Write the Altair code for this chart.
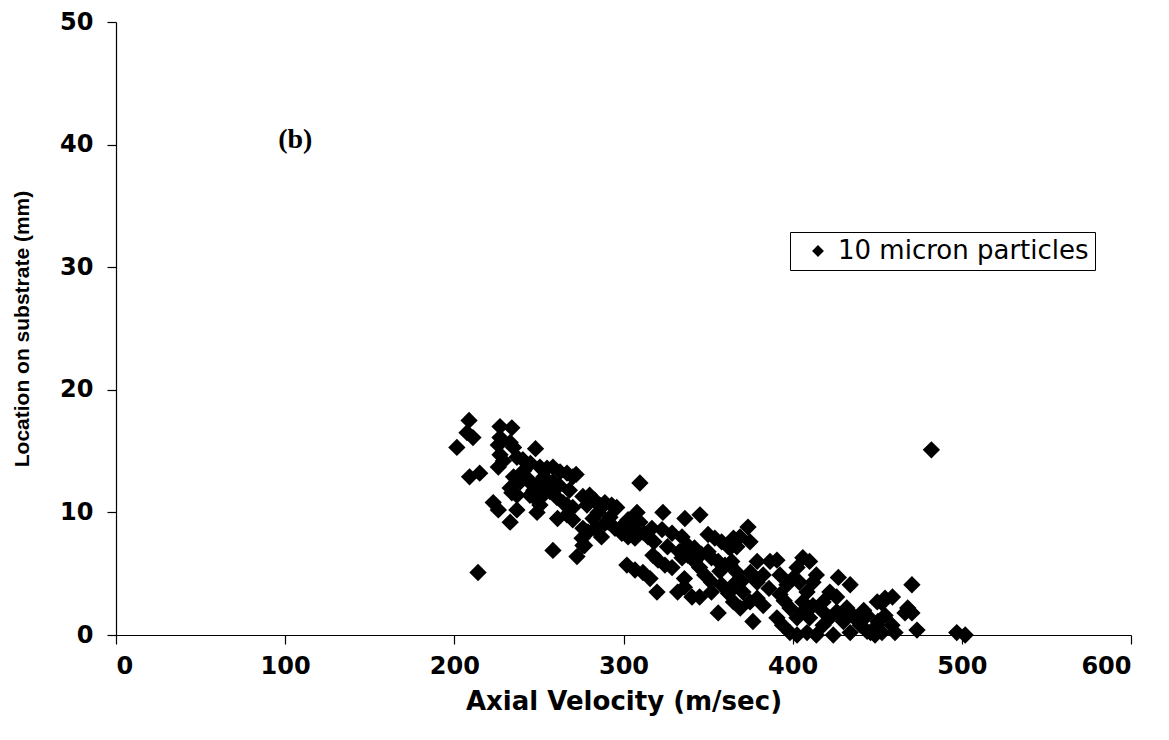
import altair as alt
import pandas as pd

velocity = [
    208.7, 207.5, 211, 201.5, 227, 234, 227, 226, 233, 235, 248, 227, 229, 226, 237, 240.5, 245,
    250.6, 254.8, 258.3, 262.5, 266.6, 270, 272, 209, 215, 235, 239, 233, 243, 246.5, 250.6, 254.8,
    258.3, 260.7, 256.5, 252.4, 234, 237, 244.7, 248.9, 250.6, 248.9, 260.7, 264.2, 266.6, 270,
    276, 278.4, 261, 266.6, 270, 276, 275.5, 276, 223, 226, 237, 233, 258.3, 272.5, 214,
    309.7, 280, 283, 286, 289, 293, 296, 285, 287, 279, 277, 283, 289, 287, 291, 295, 299, 302.7,
    306.8, 302.7, 308, 309.7, 306.8, 311.5, 314.5, 316.8, 322.8, 328.7, 334.6, 323.3, 336.3, 345.2,
    317.4, 320.4, 324.5, 328.7, 302, 306.8, 311.5, 315.7, 319.8, 332, 336, 340.5, 345, 336, 338,
    342, 338, 334.6, 342, 345, 350, 354, 358, 362, 350, 352, 356, 360, 364, 348, 352, 352, 358,
    362, 365, 356, 365,
    373.6, 368.9, 374.8, 367, 363, 363, 367, 365, 379, 375, 379, 382.6, 386.6, 390.7, 370.6, 374.8,
    379, 382.6, 369, 376.5, 392.5, 396.6, 392.5, 400, 402.6, 406, 410, 404, 408.5, 412, 414, 406,
    390.7, 394, 398.4, 402.6, 402.6, 398.4, 406, 410, 412, 418, 422, 426, 408.5, 414, 418, 422,
    424, 426, 430, 427, 434, 432, 435.7, 434, 440, 444, 446, 450, 450, 442, 444,
    482, 470.5, 454.6, 459, 452.8, 468, 466.4, 470.5, 454.6, 450.4, 452.8, 458.7, 460.5, 448.7,
    473.5, 497, 502,
    241, 247, 253, 262, 268, 282, 292, 300, 318, 326, 333, 346, 357, 370, 386, 395, 418, 438,
]
location = [
    17.5, 16.5, 16.1, 15.3, 17.0, 16.9, 16.1, 15.5, 15.7, 15.3, 15.2, 14.7, 14.2, 13.7, 14.5, 14.3, 14.0,
    13.7, 13.6, 13.7, 13.3, 13.2, 12.9, 13.1, 12.9, 13.2, 12.9, 12.5, 12.0, 12.8, 12.2, 12.5, 12.4,
    12.5, 12.1, 11.7, 11.4, 11.6, 11.4, 11.4, 11.0, 10.6, 10.0, 11.2, 10.8, 10.6, 10.4,
    11.3, 10.6, 9.5, 9.8, 9.4, 8.7, 7.9, 7.3, 10.8, 10.2, 10.2, 9.2, 6.9, 6.4, 5.1,
    12.4, 11.4, 11.0, 10.6, 10.8, 10.6, 10.4, 10.0, 10.4, 8.4, 7.3, 8.7, 9.1, 8.0, 9.2, 8.7, 8.3, 8.0,
    7.9, 9.4, 10.0, 9.2, 8.7, 8.4, 8.0, 8.7, 8.6, 8.3, 8.0, 10.0, 9.5, 9.8,
    6.5, 6.1, 5.7, 5.5, 5.7, 5.3, 5.1, 4.6, 3.5, 3.5, 3.9, 3.1, 3.1, 4.6, 7.3,
    7.1, 6.5, 6.3, 6.0, 5.5, 8.2, 7.9, 7.6, 7.2, 6.8, 6.3, 6.0, 5.7, 6.0, 4.9, 4.3, 3.5, 4.1,
    3.4, 2.7, 1.8, 7.9,
    8.8, 8.0, 7.6, 7.2, 7.1, 5.7, 5.1, 4.1, 6.0, 5.1, 4.3, 4.9, 6.0, 6.1, 3.5, 2.7,
    3.0, 2.4, 2.2, 1.1, 4.9, 4.1, 3.3, 4.6, 5.5, 6.3, 6.0, 4.3, 3.5, 4.3, 4.9, 2.7,
    1.4, 0.8, 0.2, 1.4, 0.0, 2.2, 1.9, 1.4, 2.4, 2.7, 3.5, 3.1, 0.2, 0.0, 0.8, 1.4,
    0.0, 1.9, 1.1, 4.7, 4.1, 2.2, 1.6, 0.2, 0.8, 1.6, 0.2, 0.8, 2.7, 2.0, 0.3,
    15.1, 4.1, 3.0, 3.1, 2.6, 2.2, 1.8, 1.8, 1.6, 1.1, 0.2, 0.8, 0.2, 0.0,
    0.4, 0.2, 0.0,
    13.4, 11.8, 12.9, 12.2, 11.8, 9.5, 9.6, 9.0, 7.6, 7.2, 6.8, 6.6, 5.2, 4.4, 3.8, 2.8, 1.9, 1.2,
]
series_name = "10 micron particles"

note_text = ["(b)"]
note_x = [106]
note_y = [40.4]

x_ticks = [0, 100, 200, 300, 400, 500, 600]
y_ticks = [0, 10, 20, 30, 40, 50]

df = pd.DataFrame({"velocity": velocity, "location": location, "series": series_name})
notes = pd.DataFrame({"velocity": note_x, "location": note_y, "label": note_text})

x_title = "Axial Velocity (m/sec)"
y_title = "Location on substrate (mm)"

points = alt.Chart(df).mark_point(
    shape="diamond", filled=True, size=300, opacity=1, strokeWidth=0
).encode(
    x=alt.X("velocity:Q", title=x_title,
            scale=alt.Scale(domain=[0, 600], nice=False, zero=True),
            axis=alt.Axis(values=x_ticks)),
    y=alt.Y("location:Q", title=y_title,
            scale=alt.Scale(domain=[0, 50], nice=False, zero=True),
            axis=alt.Axis(values=y_ticks)),
    color=alt.Color(
        "series:N",
        scale=alt.Scale(range=["black"]),
        legend=alt.Legend(
            title=None, orient="none", legendX=674, legendY=210,
            symbolType="diamond", symbolSize=140, symbolFillColor="black",
            symbolStrokeWidth=0, symbolOffset=9,
            labelFont="DejaVu Sans", labelFontSize=26, labelColor="black",
            labelOffset=7, labelLimit=400,
            padding=6, strokeColor="black", fillColor="white", cornerRadius=0,
        ),
    ),
)

note = alt.Chart(notes).mark_text(
    font="Liberation Serif", fontWeight="bold", fontSize=28, color="black"
).encode(
    x=alt.X("velocity:Q", title=x_title),
    y=alt.Y("location:Q", title=y_title),
    text="label:N",
)

chart = alt.layer(points, note).properties(
    width=1015, height=613,
    autosize=alt.AutoSizeParams(type="none"),
    padding={"left": 116, "top": 22, "right": 38, "bottom": 105},
    background="white",
).configure_view(stroke=None).configure_axis(
    grid=False,
    domainColor="black", domainWidth=1.2,
    tickColor="black", tickWidth=1.2, tickSize=9,
    labelFont="DejaVu Sans", labelFontWeight="bold", labelFontSize=24, labelColor="black",
    titleColor="black", titleFontWeight="bold",
).configure_axisX(
    labelPadding=10, titleFont="DejaVu Sans", titleFontSize=26, titlePadding=10,
).configure_axisY(
    labelPadding=14, titleFont="Liberation Sans", titleFontSize=21, titlePadding=27,
)

chart.save("out.html", embed_options={"renderer": "svg", "actions": False})
